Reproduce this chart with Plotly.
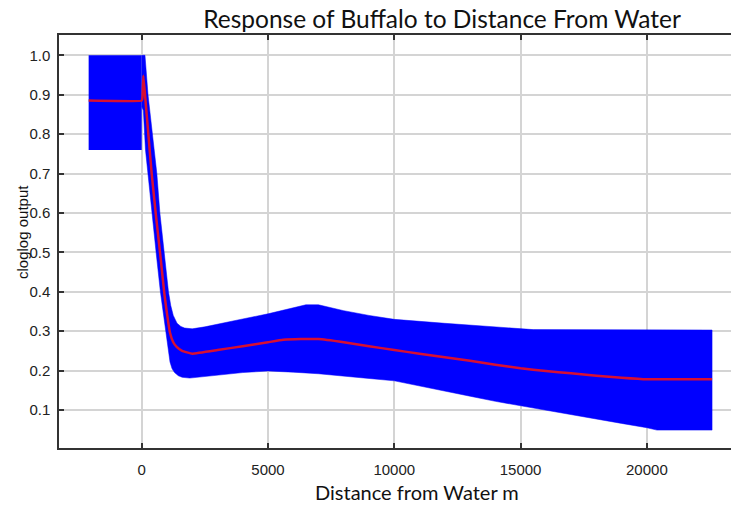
import plotly.graph_objects as go

# Response curve (red line)
curve_x = [-2100, 0, 30, 65, 150, 250, 395, 553, 725, 896, 1000, 1120, 1250, 1385, 1600, 2000,
           3000, 4000, 5000, 5600, 6300, 7000, 8000, 9000, 10000, 11000, 12000, 13000, 14000,
           15000, 16000, 17000, 18000, 19000, 20000, 22580]
curve_y = [0.885, 0.885, 0.893, 0.948, 0.886, 0.81, 0.70, 0.60, 0.50, 0.396, 0.345, 0.296, 0.272,
           0.26, 0.25, 0.243, 0.252, 0.262, 0.272, 0.278, 0.280, 0.280, 0.272, 0.262, 0.252,
           0.243, 0.234, 0.225, 0.215, 0.206, 0.199, 0.193, 0.187, 0.182, 0.178, 0.178]

# Left block of the band (x below 0)
block_x = [-2100, 0]
block_low = 0.76
block_high = 1.0

# Confidence band, upper edge (left to right)
upper_x = [0, 130, 250, 450, 600, 720, 880, 1060, 1150, 1250, 1400, 1550, 1700, 2000, 2500,
           3000, 4000, 5000, 5500, 6000, 6500, 7000, 7500, 8000, 9000, 10000, 12000, 14000,
           15500, 22580]
upper_y = [1.0, 1.0, 0.90, 0.78, 0.70, 0.60, 0.50, 0.40, 0.365, 0.34, 0.32, 0.312, 0.308,
           0.306, 0.311, 0.318, 0.331, 0.344, 0.352, 0.360, 0.367, 0.367, 0.359, 0.352, 0.340,
           0.330, 0.320, 0.310, 0.304, 0.303]

# Confidence band, lower edge (left to right)
lower_x = [0, 65, 150, 250, 400, 570, 740, 900, 990, 1060, 1120, 1200, 1300, 1450, 1600, 1900,
           2500, 3000, 4000, 5000, 6000, 7000, 8000, 9000, 10000, 11000, 12000, 13000, 14000,
           15000, 16000, 17000, 18000, 19000, 20000, 20400, 22580]
lower_y = [0.87, 0.86, 0.76, 0.70, 0.60, 0.50, 0.40, 0.33, 0.29, 0.25, 0.222, 0.205, 0.195,
           0.187, 0.183, 0.181, 0.184, 0.188, 0.195, 0.199, 0.196, 0.192, 0.186, 0.180, 0.174,
           0.160, 0.148, 0.135, 0.122, 0.110, 0.099, 0.088, 0.077, 0.066, 0.055, 0.049, 0.049]

x_ticks = [0, 5000, 10000, 15000, 20000]
x_tick_text = ["0", "5000", "10000", "15000", "20000"]
y_ticks = [0.1, 0.2, 0.3, 0.4, 0.5, 0.6, 0.7, 0.8, 0.9, 1.0]
y_tick_text = ["0.1", "0.2", "0.3", "0.4", "0.5", "0.6", "0.7", "0.8", "0.9", "1.0"]

title_text = "Response of Buffalo to Distance From Water"
x_title = "Distance from Water m"
y_title = "cloglog output"

band_x = upper_x + lower_x[::-1]
band_y = upper_y + lower_y[::-1]

fig = go.Figure()
fig.add_trace(go.Scatter(x=[block_x[0], block_x[1], block_x[1], block_x[0], block_x[0]],
                         y=[block_low, block_low, block_high, block_high, block_low],
                         fill="toself", fillcolor="#0000ff", mode="lines",
                         line=dict(width=0, color="#0000ff"),
                         hoverinfo="skip", showlegend=False))
fig.add_trace(go.Scatter(x=band_x, y=band_y, fill="toself", fillcolor="#0000ff",
                         mode="lines", line=dict(width=0.5, color="#0000ff"),
                         hoverinfo="skip", showlegend=False))
fig.add_trace(go.Scatter(x=curve_x, y=curve_y, mode="lines",
                         line=dict(color="rgb(215,15,50)", width=2.5, shape="spline", smoothing=0.3),
                         showlegend=False))

W, H = 731, 506
L, R, T, B = 59, 0, 35, 58
pw = W - L - R
ph = H - T - B

axis_common = dict(showline=True, linecolor="#333333", linewidth=1.5,
                   ticks="inside", ticklen=5, tickcolor="#333333", tickwidth=1.5,
                   showgrid=True, gridcolor="#d4d4d4", gridwidth=1.5, zeroline=False,
                   tickfont=dict(family="Liberation Sans", size=15, color="#222222"))

fig.update_layout(
    width=W, height=H,
    margin=dict(l=L, r=R, t=T, b=B),
    paper_bgcolor="white", plot_bgcolor="white",
    title=dict(text=title_text, xref="container", yref="container",
               x=442 / W, xanchor="center", y=1 - 19 / H, yanchor="middle",
               font=dict(family="Lato", size=24.5, color="#111111")),
    xaxis=dict(range=[-3274, 23330], tickvals=x_ticks, ticktext=x_tick_text, mirror="ticks",
               ticklabelstandoff=7, **axis_common),
    yaxis=dict(range=[0.0036, 1.0515], tickvals=y_ticks, ticktext=y_tick_text,
               ticklabelstandoff=4, **axis_common),
    annotations=[
        dict(text=x_title, xref="paper", yref="paper",
             x=(417 - L) / pw, y=(H - B - 492) / ph, xanchor="center", yanchor="middle",
             showarrow=False, font=dict(family="Lato", size=20, color="#111111")),
        dict(text=y_title, xref="paper", yref="paper", textangle=-90,
             x=(22 - L) / pw, y=(H - B - 232) / ph, xanchor="center", yanchor="middle",
             showarrow=False, font=dict(family="Liberation Sans", size=15, color="#111111")),
    ],
)

fig.write_html("out.html")
